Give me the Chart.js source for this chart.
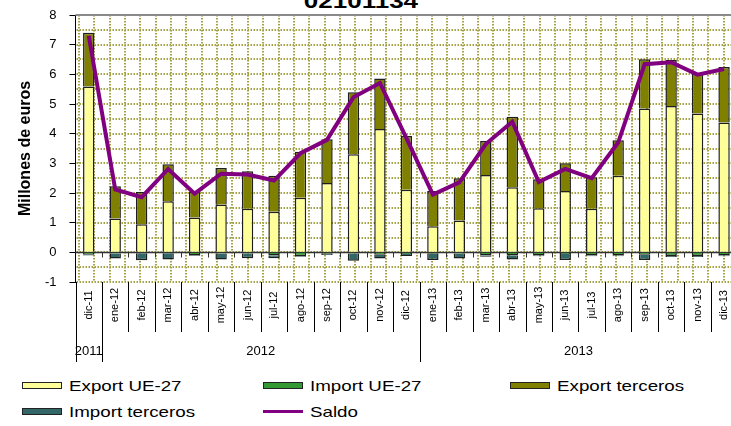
<!DOCTYPE html>
<html>
<head>
<meta charset="utf-8">
<script src="https://cdn.jsdelivr.net/npm/chart.js@4.4.1/dist/chart.umd.min.js"></script>
<style>
  html, body { margin:0; padding:0; background:#fff; }
  body { width:731px; height:426px; overflow:hidden; position:relative; font-family:"Liberation Sans", Arial, sans-serif; }
  #c { position:absolute; left:0; top:0; }
  #title { position:absolute; left:0; width:722px; top:-9.5px; text-align:center; font:bold 20px "Liberation Sans", Arial, sans-serif; line-height:20px; color:#000; }
  #title span { display:inline-block; transform:scaleX(1.3); }
  #legend { position:absolute; left:22px; top:372px; display:grid; grid-template-columns:241px 247px 210px; grid-auto-rows:26px; }
  .item { display:flex; align-items:center; font:15px "Liberation Sans", Arial, sans-serif; color:#000; }
  .sw { width:40px; height:7px; box-sizing:border-box; border:1px solid #222; margin-right:7px; flex:none; }
  .txt { display:inline-block; transform:scaleX(1.25); transform-origin:left center; white-space:nowrap; }
</style>
</head>
<body>
<div id="title"><span>02101134</span></div>
<canvas id="c" width="745" height="370"></canvas>
<div id="legend"></div>
<script>
const categories = ['dic-11','ene-12','feb-12','mar-12','abr-12','may-12','jun-12','jul-12','ago-12','sep-12','oct-12','nov-12','dic-12','ene-13','feb-13','mar-13','abr-13','may-13','jun-13','jul-13','ago-13','sep-13','oct-13','nov-13','dic-13'];
const exportUE  = [5.59,1.14,0.95,1.72,1.17,1.61,1.47,1.37,1.84,2.34,3.31,4.16,2.11,0.88,1.07,2.61,2.19,1.49,2.07,1.47,2.58,4.85,4.93,4.68,4.38];
const importUE  = [-0.08,-0.04,-0.03,-0.03,-0.10,-0.04,-0.04,-0.10,-0.13,-0.05,-0.04,-0.08,-0.06,-0.05,-0.04,-0.10,-0.10,-0.10,-0.06,-0.10,-0.10,-0.08,-0.12,-0.12,-0.10];
const exportTer = [1.81,1.09,1.08,1.25,0.88,1.23,1.26,1.21,1.55,1.47,2.09,1.70,1.81,1.19,1.43,1.14,2.38,0.97,0.93,1.06,1.20,1.66,1.55,1.36,1.87];
const importTer = [-0.03,-0.17,-0.24,-0.21,-0.02,-0.20,-0.16,-0.10,-0.03,-0.04,-0.24,-0.13,-0.06,-0.21,-0.17,-0.05,-0.14,-0.03,-0.20,-0.03,-0.03,-0.18,-0.04,-0.04,-0.03];
const saldo     = [7.30,2.12,1.86,2.81,1.98,2.65,2.62,2.42,3.34,3.79,5.23,5.71,3.85,1.95,2.36,3.65,4.40,2.37,2.81,2.50,3.70,6.34,6.41,5.99,6.18];
const yTicks = { min: -1, max: 8, step: 0.5 };
const yTitle = 'Millones de euros';

const FONT = '"Liberation Sans", Arial, sans-serif';
const GRID = '#a3a345';
const yearOf = l => '20' + l.split('-')[1];

const barStyle = { borderColor: '#1e1e1e', borderWidth: 1.5, barPercentage: 0.43, categoryPercentage: 1, stack: 'b', order: 1 };
const datasets = [
  Object.assign({ type:'bar', label:'Export UE-27', data: exportUE, backgroundColor:'#FFFF99' }, barStyle),
  Object.assign({ type:'bar', label:'Import UE-27', data: importUE, backgroundColor:'#339933' }, barStyle),
  Object.assign({ type:'bar', label:'Export terceros', data: exportTer, backgroundColor:'#808000' }, barStyle),
  Object.assign({ type:'bar', label:'Import terceros', data: importTer, backgroundColor:'#336666' }, barStyle),
  { type:'line', label:'Saldo', data: saldo, borderColor:'#800080', backgroundColor:'#800080', borderWidth:4, pointRadius:0, tension:0, stack:'s', order:0 }
];

const decor = {
  id: 'decor',
  beforeDatasetsDraw(chart) {
    const { ctx, chartArea: a, scales: { x, y } } = chart;
    ctx.save();
    ctx.strokeStyle = GRID; ctx.lineWidth = 2; ctx.setLineDash([1.5, 1.5]);
    y.ticks.forEach(t => {
      if (t.value === yTicks.max) return;
      const py = Math.round(y.getPixelForValue(t.value));
      ctx.beginPath(); ctx.moveTo(a.left + 1, py); ctx.lineTo(a.right, py); ctx.stroke();
    });
    for (let px = a.left + 3.5; px < a.right; px += 15.35) {
      const rx = Math.round(px);
      ctx.beginPath(); ctx.moveTo(rx, a.top); ctx.lineTo(rx, a.bottom); ctx.stroke();
    }
    ctx.setLineDash([]);
    ctx.strokeStyle = '#8a8a8a'; ctx.lineWidth = 2;
    ctx.beginPath(); ctx.moveTo(a.left, Math.round(a.top)); ctx.lineTo(a.right, Math.round(a.top)); ctx.stroke();
    const y0 = Math.round(y.getPixelForValue(0)) + 0.5;
    ctx.strokeStyle = '#333'; ctx.lineWidth = 1.3;
    ctx.beginPath(); ctx.moveTo(a.left, y0); ctx.lineTo(a.right, y0); ctx.stroke();
    ctx.lineWidth = 1;
    for (let i = 1; i < categories.length; i++) {
      const bx = Math.round((x.getPixelForValue(i - 1) + x.getPixelForValue(i)) / 2) + 0.5;
      ctx.beginPath(); ctx.moveTo(bx, y0); ctx.lineTo(bx, y0 + 5); ctx.stroke();
    }
    ctx.restore();
  },
  afterDraw(chart) {
    const { ctx, chartArea: a, scales: { x } } = chart;
    ctx.save();
    ctx.strokeStyle = '#000'; ctx.lineWidth = 1;
    const shortEnd = a.bottom + 50, longEnd = a.bottom + 80;
    const line = (px, end) => { ctx.beginPath(); ctx.moveTo(px, a.bottom); ctx.lineTo(px, end); ctx.stroke(); };
    line(Math.round(a.left) + 0.5, longEnd);
    for (let i = 1; i < categories.length; i++) {
      const bx = Math.round((x.getPixelForValue(i - 1) + x.getPixelForValue(i)) / 2) + 0.5;
      line(bx, yearOf(categories[i]) !== yearOf(categories[i - 1]) ? longEnd : shortEnd);
    }
    ctx.fillStyle = '#000';
    ctx.font = '11px ' + FONT;
    ctx.textAlign = 'center'; ctx.textBaseline = 'middle';
    categories.forEach((lab, i) => {
      ctx.save();
      ctx.translate(x.getPixelForValue(i), a.bottom + 23);
      ctx.rotate(-Math.PI / 2);
      ctx.fillText(lab, 0, 0);
      ctx.restore();
    });
    ctx.font = '13px ' + FONT;
    const years = [...new Set(categories.map(yearOf))];
    years.forEach(yr => {
      const idx = categories.map((c, i) => yearOf(c) === yr ? i : -1).filter(i => i >= 0);
      const cx = (x.getPixelForValue(idx[0]) + x.getPixelForValue(idx[idx.length - 1])) / 2;
      ctx.fillText(yr, cx, a.bottom + 69);
    });
    ctx.restore();
  }
};

new Chart(document.getElementById('c'), {
  data: { labels: categories, datasets },
  options: {
    responsive: false,
    animation: false,
    devicePixelRatio: 1,
    layout: { padding: { left: 0, right: 7.7, top: 15, bottom: 0 } },
    plugins: { legend: { display: false }, tooltip: { enabled: false }, title: { display: false } },
    scales: {
      x: {
        stacked: true,
        offset: true,
        grid: { display: false },
        border: { display: false },
        ticks: { display: false },
        afterFit: s => { s.height = 88; }
      },
      y: {
        stacked: true,
        min: yTicks.min, max: yTicks.max,
        ticks: {
          stepSize: yTicks.step,
          autoSkip: false,
          padding: 13,
          color: '#000',
          font: { family: FONT, size: 13 },
          callback: v => Number.isInteger(v) ? String(v) : ''
        },
        grid: {
          drawOnChartArea: false,
          tickLength: 6,
          tickColor: c => (c.tick && Number.isInteger(c.tick.value)) ? '#000' : 'rgba(0,0,0,0)',
          tickWidth: 1
        },
        border: { display: true, color: '#000', width: 1 },
        title: { display: true, text: yTitle, color: '#000', font: { family: FONT, size: 16, weight: 'bold' }, padding: { top: 16, bottom: 0 } },
        afterFit: s => { s.width = 75.5; s.paddingTop = 0; s.paddingBottom = 0; }
      }
    }
  },
  plugins: [decor]
});

const leg = document.getElementById('legend');
datasets.forEach(d => {
  const it = document.createElement('div'); it.className = 'item';
  const sw = document.createElement('span'); sw.className = 'sw';
  if (d.type === 'line') { sw.style.height = '3px'; sw.style.border = 'none'; sw.style.background = d.borderColor; }
  else sw.style.background = d.backgroundColor;
  const tx = document.createElement('span'); tx.className = 'txt'; tx.textContent = d.label;
  it.appendChild(sw); it.appendChild(tx); leg.appendChild(it);
});
</script>
</body>
</html>
